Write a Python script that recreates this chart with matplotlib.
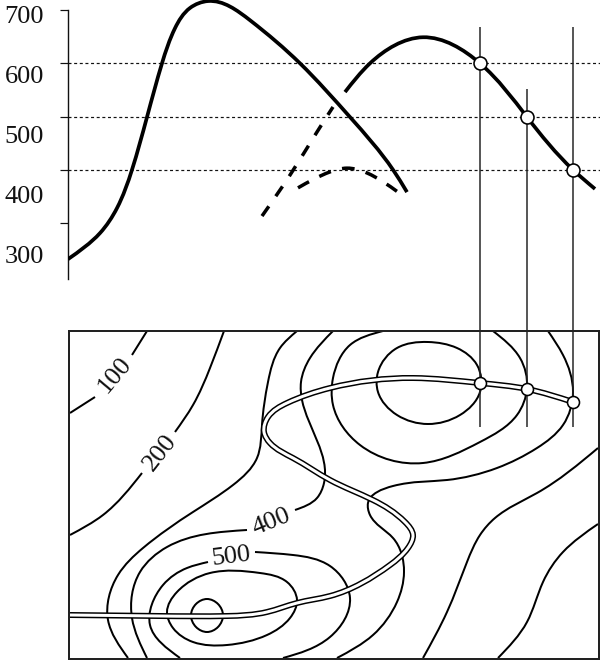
import matplotlib
matplotlib.use("Agg")
import matplotlib.pyplot as plt
import numpy as np
from matplotlib.path import Path
from matplotlib.patches import PathPatch
from matplotlib.transforms import ScaledTranslation

# ---------- profile data (distance along x, elevation) ----------
elev_ticks = [700, 600, 500, 400, 300]
elev_labels = ["700", "600", "500", "400", "300"]
grid_levels = [600, 500, 400]

profile_main_x = [68, 100, 117, 132, 147, 162, 175, 190, 208, 250, 300, 350, 393, 407]
profile_main_y = [232, 281, 328, 400, 499, 600, 666, 704, 717, 681, 600, 499, 400, 358]
profile_second_x = [345, 370, 423, 480, 527, 573, 595]
profile_second_y = [546, 600, 649, 600, 499, 400, 364]
dashed_a_x = [262, 290, 317, 333]
dashed_a_y = [313, 390, 471, 518]
dashed_b_x = [298, 330, 347, 367, 398]
dashed_b_y = [366, 396, 403, 394, 358]

cross_x = [480, 527, 573]
cross_elev = [600, 500, 400]
cross_top = [668, 552, 668]

# ---------- map data (map x, map y) ----------
route = [(70,615),(160,616),(227,616),(267,612),(297,603),(330,596),(390,565),(408,548),
         (413,535),(405,522),(373,500),(330,480),(293,458),(270,443),(264,432),(268,417),(287,403),
         (330,388),(413,378),(480,383),(527,389),(573,402)]
route_marks_y = [383, 389, 402]

contours_open = [
    [(70,413),(95,397)],
    [(132,355),(147,331)],
    [(70,535),(103,515),(142,473)],
    [(175,432),(193,405),(210,368),(224,331)],
    [(128,658),(108,620),(118,575),(143,548),(193,512),(233,485),(257,458),
     (262,425),(268,382),(280,348),(297,331)],
    [(147,658),(132,618),(140,572),(167,547),(247,530)],
    [(295,510),(317,498),(324,483),(302,400),(301,382),(310,358),(333,331)],
    [(180,658),(150,625),(163,585),(187,568),(208,562)],
    [(255,552),(293,555),(330,566),(350,598),(330,637),(283,658)],
    [(337,658),(373,635),(397,602),(404,572),(393,538),(370,515),(368,503),(393,486),
     (447,480),(497,468),(537,448),(563,425),(573,392),(563,355),(548,331)],
    [(383,331),(350,345),(333,378),(333,405),(360,445),(423,463),(480,442),(517,415),(527,388),
     (520,358),(493,331)],
    [(423,658),(447,612),(467,562),(480,535),(495,518),(537,493),(598,448)],
    [(498,658),(527,622),(543,582),(563,552),(598,524)],
]
contours_closed = [
    [(167,612),(177,592),(210,573),(260,573),(287,582),(297,600),(290,618),(267,635),(227,645),(193,642),(173,628)],
    [(191,615),(196,604),(207,599),(218,604),(223,615),(218,627),(207,632),(196,627)],
    [(428,342),(397,348),(378,372),(378,392),(397,415),(428,424),(460,415),(480,392),(477,365),(457,348)],
]
contour_labels = ["100", "200", "400", "500"]
contour_label_x = [115, 160, 272, 231]
contour_label_y = [375, 453, 522, 557]
contour_label_rot = [50, 52, 22, 7]


def smooth(points, closed=False, scale=(1.0, 1.0)):
    """C2 cubic spline through the points (chord-length parameter), as Bezier segments.
    scale gives the pixel size of one data unit in x and y."""
    p = np.asarray(points, float)
    s = np.asarray(scale, float)
    q = p * s
    if closed:
        q = np.vstack([q, q[0]])
    n = len(q)
    if n == 2:
        return Path(p, [Path.MOVETO, Path.LINETO])
    h = np.linalg.norm(np.diff(q, axis=0), axis=1)
    A = np.zeros((n, n))
    b = np.zeros((n, 2))
    for i in range(1, n-1):
        A[i, i-1], A[i, i], A[i, i+1] = h[i-1], 2*(h[i-1]+h[i]), h[i]
        b[i] = 6*((q[i+1]-q[i])/h[i] - (q[i]-q[i-1])/h[i-1])
    if closed:
        A[0, 0], A[0, -1] = 1, -1
        A[-1, 0] = 2*(h[0]+h[-1])
        A[-1, 1] = h[0]
        A[-1, -2] = h[-1]
        b[-1] = 6*((q[1]-q[0])/h[0] - (q[-1]-q[-2])/h[-1])
    else:
        A[0, 0] = A[-1, -1] = 1
    M = np.linalg.solve(A, b)
    verts, codes = [q[0]/s], [Path.MOVETO]
    for i in range(n-1):
        d0 = (q[i+1]-q[i])/h[i] - h[i]*(2*M[i]+M[i+1])/6
        d1 = (q[i+1]-q[i])/h[i] + h[i]*(M[i]+2*M[i+1])/6
        verts += [(q[i]+d0*h[i]/3)/s, (q[i+1]-d1*h[i]/3)/s, q[i+1]/s]
        codes += [Path.CURVE4]*3
    return Path(verts, codes)


px = 72 / 100  # one pixel in points at dpi 100
W, H = 600, 661
plt.rcParams["font.family"] = ["Liberation Serif", "DejaVu Serif"]
fig = plt.figure(figsize=(W/100, H/100), dpi=100, facecolor="white")

# ---------- profile panel ----------
ax = fig.add_axes([68/W, 1-331/H, 532/W, 331/H])
ax.set_xlim(68, 600)
ax.set_ylim(97, 719)
ax.patch.set_alpha(0)
for s in ("top", "right", "bottom"):
    ax.spines[s].set_visible(False)
ax.spines["left"].set_bounds(195, 700)
ax.spines["left"].set_linewidth(1.4*px)
ax.spines["left"].set_color("#111111")
ax.set_xticks([])
ax.set_yticks(elev_ticks, elev_labels, fontsize=19)
ax.tick_params(axis="y", length=8*px, width=1.2*px, color="#111111", pad=16*px, labelcolor="#111111")
label_shift = [4, 11, 18, 25, 32]
for lab, dy in zip(ax.get_yticklabels(), label_shift):
    lab.set_transform(lab.get_transform() + ScaledTranslation(0, -dy/100, fig.dpi_scale_trans))

prof_scale = (1.0, 1/1.878)
ax.hlines(grid_levels, 68, 600, colors="#111111", linewidth=1.2*px, linestyles=(0, (2.5, 2.2)), zorder=1)
ax.vlines(cross_x, 97, cross_top, colors="#222222", linewidth=1.5*px, zorder=2)

ax.add_patch(PathPatch(smooth(list(zip(profile_main_x, profile_main_y)), scale=prof_scale), fc="none", ec="black",
                       lw=3.7*px, capstyle="butt", zorder=3))
ax.add_patch(PathPatch(smooth(list(zip(profile_second_x, profile_second_y)), scale=prof_scale), fc="none", ec="black",
                       lw=3.7*px, capstyle="butt", zorder=3))
ax.add_patch(PathPatch(smooth(list(zip(dashed_a_x, dashed_a_y)), scale=prof_scale), fc="none", ec="black",
                       lw=3.5*px, ls=(0, (3.4, 3.5)), capstyle="butt", zorder=3))
ax.add_patch(PathPatch(smooth(list(zip(dashed_b_x, dashed_b_y)), scale=prof_scale), fc="none", ec="black",
                       lw=3.5*px, ls=(0, (3.6, 3.3)), capstyle="butt", zorder=3))
ax.plot(cross_x, cross_elev, ls="none", marker="o", ms=13*px, mfc="white", mec="black", mew=1.6*px, zorder=4)

# ---------- map panel ----------
am = fig.add_axes([69/W, 1-659/H, 530/W, 328/H])
am.set_xlim(69, 599)
am.set_ylim(659, 331)
am.set_xticks([])
am.set_yticks([])
for s in am.spines.values():
    s.set_linewidth(2*px)
    s.set_color("#222222")

for c in contours_open:
    am.add_patch(PathPatch(smooth(c), fc="none", ec="black", lw=2*px, zorder=2))
for c in contours_closed:
    am.add_patch(PathPatch(smooth(c, closed=True), fc="none", ec="black", lw=2*px, zorder=2))
for t, x, y, r in zip(contour_labels, contour_label_x, contour_label_y, contour_label_rot):
    am.text(x, y, t, rotation=r, rotation_mode="anchor", ha="center", va="center",
            fontsize=19, color="#111111", zorder=3)

am.add_patch(PathPatch(smooth(route), fc="none", ec="black", lw=6*px, capstyle="butt", zorder=4))
am.add_patch(PathPatch(smooth(route), fc="none", ec="white", lw=3*px, capstyle="butt", zorder=5))
am.vlines(cross_x, 331, 427, colors="#222222", linewidth=1.5*px, zorder=6)
am.plot(cross_x, route_marks_y, ls="none", marker="o", ms=12*px, mfc="white", mec="black", mew=1.6*px, zorder=7)

fig.savefig("out.png", dpi=100)
